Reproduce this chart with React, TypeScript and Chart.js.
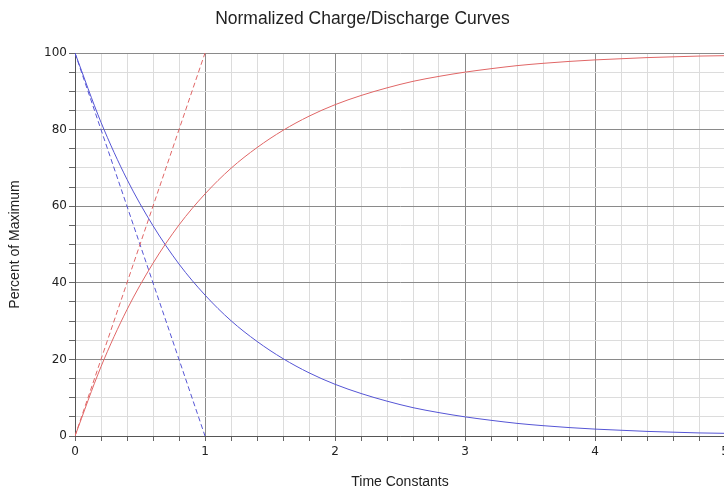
import React, { useEffect, useRef } from "react";
import { Chart, registerables } from "chart.js";

Chart.register(...registerables);

const timeSteps = [0, 0.2, 0.4, 0.6, 0.8, 1, 1.2, 1.4, 1.6, 1.8, 2, 2.2, 2.4, 2.6, 2.8, 3, 3.2, 3.4, 3.6, 3.8, 4, 4.2, 4.4, 4.6, 4.8, 5];
const dischargeCurve = [100, 81.9, 67.0, 54.9, 44.9, 36.8, 30.1, 24.7, 20.2, 16.5, 13.5, 11.1, 9.1, 7.4, 6.1, 5.0, 4.1, 3.3, 2.7, 2.2, 1.8, 1.5, 1.2, 1.0, 0.8, 0.7];
const chargeCurve = [0, 18.1, 33.0, 45.1, 55.1, 63.2, 69.9, 75.3, 79.8, 83.5, 86.5, 88.9, 90.9, 92.6, 93.9, 95.0, 95.9, 96.7, 97.3, 97.8, 98.2, 98.5, 98.8, 99.0, 99.2, 99.3];
const linearTimes = [0, 1];
const chargeLinear = [0, 100];
const dischargeLinear = [100, 0];

const RED = "#e06666";
const BLUE = "#5555d5";
const FONT = "'Liberation Sans', Arial, sans-serif";
const TICK_FONT = "'DejaVu Sans', Tahoma, sans-serif";

const isInt = (v: number, step: number) => Math.abs(v / step - Math.round(v / step)) < 1e-6;

export default function App() {
  const ref = useRef<HTMLCanvasElement | null>(null);
  useEffect(() => {
    if (!ref.current) return;
    const pts = (xs: number[], ys: number[]) => xs.map((x, i) => ({ x, y: ys[i] }));
    const chart = new Chart(ref.current, {
      type: "line",
      data: {
        datasets: [
          { data: pts(timeSteps, chargeCurve), borderColor: RED, borderWidth: 1, pointRadius: 0, cubicInterpolationMode: "monotone", fill: false },
          { data: pts(timeSteps, dischargeCurve), borderColor: BLUE, borderWidth: 1, pointRadius: 0, cubicInterpolationMode: "monotone", fill: false },
          { data: pts(linearTimes, chargeLinear), borderColor: RED, borderWidth: 1, borderDash: [5, 3], pointRadius: 0, fill: false },
          { data: pts(linearTimes, dischargeLinear), borderColor: BLUE, borderWidth: 1, borderDash: [5, 3], pointRadius: 0, fill: false },
        ],
      },
      options: {
        animation: false,
        responsive: false,
        layout: { padding: { left: 0, right: 15, top: 0, bottom: 0 } },
        plugins: {
          legend: { display: false },
          tooltip: { enabled: false },
          title: {
            display: true,
            text: "Normalized Charge/Discharge Curves",
            color: "#222",
            font: { family: FONT, size: 17.5, weight: "normal" },
            padding: { top: 8.5, bottom: 23.5 },
          },
        },
        scales: {
          x: {
            type: "linear",
            min: 0,
            max: 5,
            afterFit: (s: any) => { s.height = 54; },
            ticks: {
              stepSize: 0.2,
              autoSkip: false,
              maxRotation: 0,
              padding: 4,
              color: "#222",
              font: { family: TICK_FONT, size: 12 },
              callback: (v: any) => (isInt(Number(v), 1) ? String(Math.round(Number(v))) : ""),
            },
            grid: {
              color: (c: any) => (c.tick && isInt(c.tick.value, 1) ? "#8a8a8a" : "#dcdcdc"),
              tickColor: "#666",
              tickLength: 5,
            },
            border: { color: "#555" },
            title: {
              display: true,
              text: "Time Constants",
              color: "#222",
              font: { family: FONT, size: 14 },
              padding: { top: 0, bottom: -1 },
            },
          },
          y: {
            min: 0,
            max: 100,
            afterFit: (s: any) => { s.width = 75; },
            ticks: {
              stepSize: 5,
              autoSkip: false,
              padding: 2,
              color: "#222",
              font: { family: TICK_FONT, size: 12 },
              callback: (v: any) => (isInt(Number(v), 20) ? String(Math.round(Number(v))) : ""),
            },
            grid: {
              color: (c: any) => (c.tick && isInt(c.tick.value, 20) ? "#8a8a8a" : "#dcdcdc"),
              tickColor: "#666",
              tickLength: 6,
            },
            border: { color: "#555" },
            title: {
              display: true,
              text: "Percent of Maximum",
              color: "#222",
              font: { family: FONT, size: 14 },
              padding: { top: 6.5, bottom: 0 },
            },
          },
        },
      },
    } as any);
    return () => chart.destroy();
  }, []);
  return (
    <div style={{ position: "absolute", left: 0, top: 0, width: 724, height: 490, overflow: "hidden", background: "#fff" }}>
      <canvas ref={ref} width={740} height={490} style={{ width: 740, height: 490, display: "block" }} />
    </div>
  );
}
